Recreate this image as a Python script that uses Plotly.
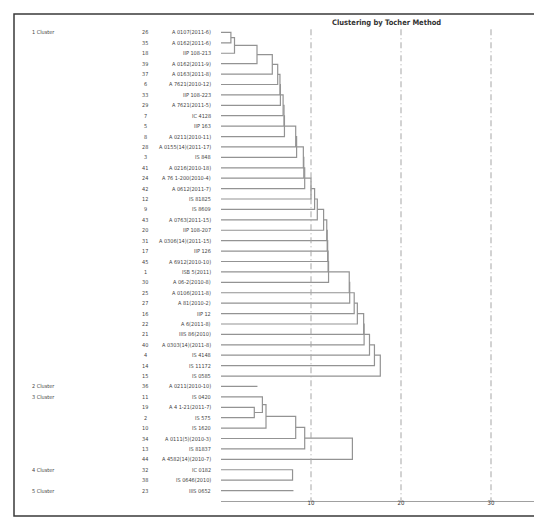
import plotly.graph_objects as go

# ---------------- data ----------------
cluster_names = ["1 Cluster", "2 Cluster", "3 Cluster", "4 Cluster", "5 Cluster"]

c1_ids = [26, 35, 18, 39, 37, 6, 33, 29, 7, 5, 8, 28, 3, 41, 24, 42, 12, 9, 43, 20,
          31, 17, 45, 1, 30, 25, 27, 16, 22, 21, 40, 4, 14, 15]
c1_names = ["A 0107(2011-6)", "A 0162(2011-6)", "IIP 108-213", "A 0162(2011-9)",
            "A 0163(2011-8)", "A 7621(2010-12)", "IIP 108-223", "A 7621(2011-5)",
            "IC 4128", "IIP 163", "A 0211(2010-11)", "A 0155(14)(2011-17)", "IS 848",
            "A 0216(2010-18)", "A 76 1-200(2010-4)", "A 0612(2011-7)", "IS 81825",
            "IS 8609", "A 0763(2011-15)", "IIP 108-207", "A 0306(14)(2011-15)",
            "IIP 126", "A 6912(2010-10)", "ISB 5(2011)", "A 06-2(2010-8)",
            "A 0106(2011-8)", "A 81(2010-2)", "IIP 12", "A 6(2011-8)", "IIIS 86(2010)",
            "A 0303(14)(2011-8)", "IS 4148", "IS 11172", "IS 0585"]
# distance at which each successive genotype joins cluster 1 (rows 2..34)
c1_join = [1.1, 1.5, 4.0, 5.7, 6.3, 6.55, 6.6, 6.9, 7.0, 7.05,
           8.3, 8.4, 9.15, 9.2, 9.3, 10.0, 10.4, 10.7, 11.4, 11.75,
           11.8, 11.85, 11.9, 11.95, 14.25, 14.3, 14.8, 15.15, 15.85, 15.9,
           16.5, 17.05, 17.7]

c2_ids = [36]
c2_names = ["A 0211(2010-10)"]
c2_length = 4.05

c3_ids = [11, 19, 2, 10, 34, 13, 44]
c3_names = ["IS 0420", "A 4 1-21(2011-7)", "IS 575", "IS 1620",
            "A 0111(5)(2010-3)", "IS 81837", "A 4582(14)(2010-7)"]
c3_merges = [("L1", "L2", 3.7), ("L0", "M0", 4.6), ("M1", "L3", 5.0),
             ("M2", "L4", 8.3), ("M3", "L5", 9.3), ("M4", "L6", 14.6)]

c4_ids = [32, 38]
c4_names = ["IC 0182", "IS 0646(2010)"]
c4_merges = [("L0", "L1", 7.95)]

c5_ids = [23]
c5_names = ["IIIS 0652"]
c5_length = 8.05

x_ticks = [10, 20, 30]
x_ticktext = ["10", "20", "30"]

# ---------------- build geometry ----------------
c1_merges = [("L0", "L1", c1_join[0])]
for k in range(1, len(c1_join)):
    c1_merges.append((f"M{k-1}", f"L{k+1}", c1_join[k]))

clusters = [
    (c1_ids, c1_names, c1_merges, None),
    (c2_ids, c2_names, None, c2_length),
    (c3_ids, c3_names, c3_merges, None),
    (c4_ids, c4_names, c4_merges, None),
    (c5_ids, c5_names, None, c5_length),
]

xs, ys = [], []
labels = []  # (row, id, name, cluster label or None)
row = 0
for ci, (ids, names, merges, single) in enumerate(clusters):
    start = row
    for j, (i_, n_) in enumerate(zip(ids, names)):
        labels.append((row, i_, n_, cluster_names[ci] if j == 0 else None))
        row += 1
    if merges is None:
        xs += [0, single, None]
        ys += [start, start, None]
        continue
    pos = {f"L{j}": (start + j, 0.0) for j in range(len(ids))}
    for m, (a, b, h) in enumerate(merges):
        ya, ha = pos[a]
        yb, hb = pos[b]
        xs += [ha, h, h, hb, None]
        ys += [ya, ya, yb, yb, None]
        pos[f"M{m}"] = ((ya + yb) / 2, h)

n_rows = row

fig = go.Figure()
fig.add_trace(go.Scatter(x=xs, y=ys, mode="lines",
                         line=dict(color="#939393", width=1.2),
                         hoverinfo="skip", showlegend=False))

FONT = "Liberation Sans Narrow, DejaVu Sans Condensed, Arial Narrow, sans-serif"
W, H = 542, 524
ML, MR, MT, MB = 213, 5, 14, 31
PW = W - ML - MR
PH = H - MT - MB

def px_to_paper_x(px):
    return (px - ML) / PW

def px_to_paper_y(py):
    return (H - MB - py) / PH

annotations = []
for (r, i_, n_, cl) in labels:
    annotations.append(dict(x=px_to_paper_x(205), y=r, xref="paper", yref="y",
                            text=n_, showarrow=False, xanchor="right", yanchor="middle",
                            font=dict(family=FONT, size=5.5, color="#444")))
    annotations.append(dict(x=px_to_paper_x(137), y=r, xref="paper", yref="y",
                            text=str(i_), showarrow=False, xanchor="center", yanchor="middle",
                            font=dict(family=FONT, size=5.5, color="#444")))
    if cl:
        annotations.append(dict(x=px_to_paper_x(22), y=r, xref="paper", yref="y",
                                text=cl, showarrow=False, xanchor="left", yanchor="middle",
                                font=dict(family=FONT, size=5.5, color="#444")))

annotations.append(dict(x=px_to_paper_x(378), y=px_to_paper_y(15), xref="paper", yref="paper",
                        text="<b>Clustering by Tocher Method</b>", showarrow=False,
                        xanchor="center", yanchor="middle",
                        font=dict(family=FONT, size=7.5, color="#333")))

shapes = []
for v in x_ticks:
    shapes.append(dict(type="line", xref="x", yref="y", x0=v, x1=v, y0=-0.3, y1=n_rows,
                       line=dict(color="#a5a5a5", width=1, dash="6px,3px,1px,3px")))
shapes.append(dict(type="rect", xref="paper", yref="paper",
                   x0=px_to_paper_x(6), x1=px_to_paper_x(538),
                   y0=px_to_paper_y(508), y1=px_to_paper_y(6),
                   line=dict(color="#3a3a3a", width=1.5), fillcolor="rgba(0,0,0,0)"))

fig.update_layout(
    width=W, height=H,
    margin=dict(l=ML, r=MR, t=MT, b=MB, pad=0),
    paper_bgcolor="white", plot_bgcolor="white",
    showlegend=False,
    xaxis=dict(range=[0, 36], showgrid=False, zeroline=False, showline=True,
               linecolor="#a0a0a0", linewidth=1, tickvals=x_ticks, ticktext=x_ticktext,
               ticks="", ticklabelstandoff=-4,
               tickfont=dict(family=FONT, size=6, color="#333")),
    yaxis=dict(range=[n_rows, -1], visible=False),
    annotations=annotations,
    shapes=shapes,
)

fig.write_html("out.html")
